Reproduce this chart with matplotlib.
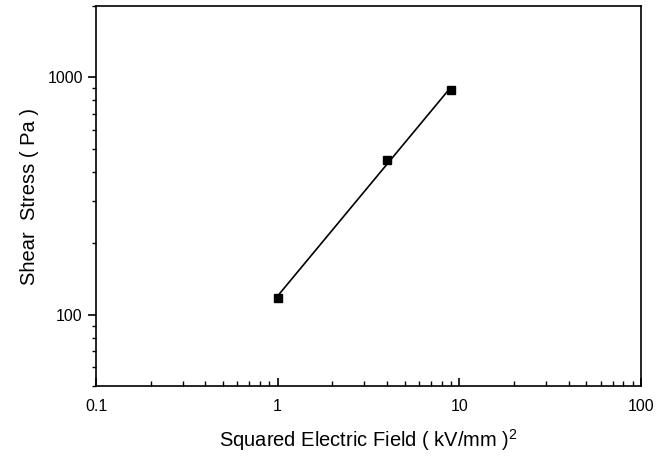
import matplotlib.pyplot as plt
from matplotlib.ticker import FuncFormatter, NullFormatter, LogLocator
import numpy as np

plt.rcParams['font.family'] = ['Liberation Sans', 'DejaVu Sans']
plt.rcParams['mathtext.fontset'] = 'custom'
plt.rcParams['mathtext.rm'] = 'Liberation Sans'

# data
E2 = [1.0, 4.0, 9.0]          # squared field (kV/mm)^2
tau = [118.0, 450.0, 885.0]   # shear stress (Pa)

fig = plt.figure(figsize=(6.69, 4.57), dpi=100)
ax = fig.add_axes([0.1435, 0.155, 0.8145, 0.832])

# linear fit in log-log space, drawn over the data range
b, a = np.polyfit(np.log10(E2), np.log10(tau), 1)
xf = np.array([min(E2), max(E2)])
ax.plot(xf, 10**(a + b*np.log10(xf)), color='black', lw=1.2)
ax.plot(E2, tau, 's', color='black', markersize=6)

ax.set_xscale('log')
ax.set_yscale('log')
ax.set_xlim(0.1, 100)
ax.set_ylim(50, 2000)

fmt = FuncFormatter(lambda v, p: '%g' % v)
ax.xaxis.set_major_formatter(fmt)
ax.yaxis.set_major_formatter(fmt)
ax.xaxis.set_minor_formatter(NullFormatter())
ax.yaxis.set_minor_formatter(NullFormatter())
ax.yaxis.set_major_locator(LogLocator(base=10))

ax.tick_params(axis='x', which='major', direction='in', length=6, width=1.2, labelsize=11.5, pad=9)
ax.tick_params(axis='x', which='minor', direction='in', length=3.5, width=1)
ax.tick_params(axis='y', which='major', direction='out', length=6, width=1.2, labelsize=11.5)
ax.tick_params(axis='y', which='minor', direction='out', length=3, width=1)
for s in ax.spines.values():
    s.set_linewidth(1.2)

ax.set_xlabel('Squared Electric Field ( kV/mm )$^2$', fontsize=14.5, labelpad=10)
ax.set_ylabel('Shear  Stress ( Pa )', fontsize=14.5, labelpad=6)

fig.savefig('out.png', dpi=100)
